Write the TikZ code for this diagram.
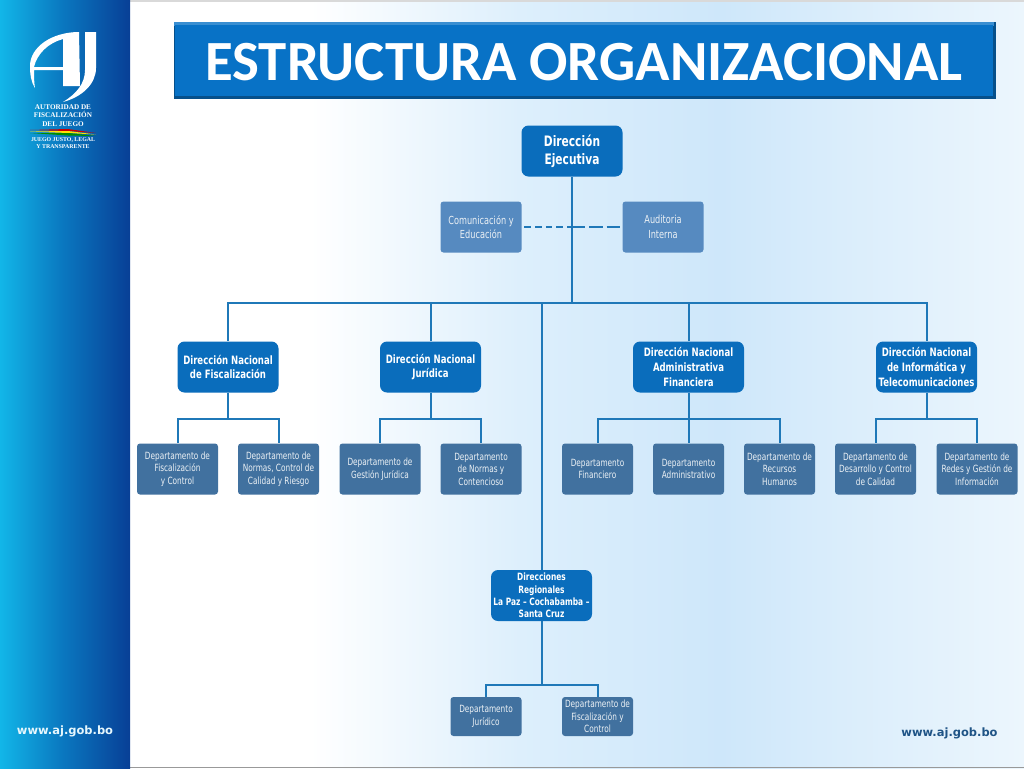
\documentclass[tikz,border=0pt]{standalone}
\usepackage{fontspec}
\setmainfont{Carlito}
\newfontfamily\boxfont[FakeStretch=0.74]{DejaVu Sans}
\newfontfamily\webfont{DejaVu Sans}
\newfontfamily\logofont{Liberation Serif}
\definecolor{dirblue}{HTML}{0A6DBC}
\definecolor{deptblue}{HTML}{41719F}
\definecolor{stafblue}{HTML}{568AC0}
\definecolor{lineblue}{HTML}{1F78B8}
\definecolor{titleblue}{HTML}{0872C6}
\definecolor{paleblue}{HTML}{CEE7FA}
\definecolor{midblue}{HTML}{DDEFFC}
\definecolor{lightblue}{HTML}{ECF6FD}
\definecolor{barcyan}{HTML}{12B6E8}
\definecolor{barmid}{HTML}{0A78C0}
\definecolor{bardark}{HTML}{083F96}
\definecolor{webblue}{HTML}{1F5486}
\tikzset{
  dirbox/.style={fill=dirblue, text=white, rounded corners=7*0.75pt, align=center, inner sep=0pt,
    minimum width=101*0.75pt, minimum height=51*0.75pt,
    font=\boxfont\bfseries\fontsize{8.65}{11}\selectfont},
  deptbox/.style={fill=deptblue, text=white!90!deptblue, rounded corners=3*0.75pt, align=center, inner sep=0pt,
    minimum width=81*0.75pt, minimum height=51*0.75pt,
    font=\boxfont\fontsize{7.45}{9.4}\selectfont},
  narrowbox/.style={deptbox, minimum width=71*0.75pt},
  stafbox/.style={deptbox, fill=stafblue, minimum width=81*0.75pt,
    font=\boxfont\fontsize{8.3}{11}\selectfont},
  conn/.style={draw=lineblue, line width=1.5pt},
  logotext/.style={text=white, align=center, inner sep=0pt}
}
\begin{document}
\begin{tikzpicture}[x=0.75pt, y=-0.75pt]
\useasboundingbox (0,0) rectangle (1024,768);
% background
\fill[white] (0,0) rectangle (1024,768);
\fill[left color=white, right color=midblue] (310,0) rectangle (520,768);
\fill[left color=midblue, right color=paleblue] (520,0) rectangle (720,768);
\fill[left color=paleblue, right color=lightblue] (720,0) rectangle (1024,768);
\fill[white!70!gray] (130,0) rectangle (1024,1.5);
\fill[gray!80] (130,766.5) rectangle (1024,768);
% side bar
\fill[left color=barcyan, right color=barmid] (0,0) rectangle (62,768);
\fill[left color=barmid, right color=bardark] (62,0) rectangle (130,768);
% logo
\fill[white, even odd rule] (79,32) .. controls (52,32) and (30,47) .. (30,66)
  .. controls (30,74) and (31,82) .. (35,88) .. controls (34,82) and (34,76) .. (34,70)
  -- (63,70) -- (63,86) -- (80,86) -- cycle
  (63,39) .. controls (48,43) and (37,54) .. (34,67) -- (63,67) -- cycle;
\fill[white] (85,32) -- (96,32) -- (96,68) .. controls (96,84) and (82,97) .. (63,102)
  .. controls (76,94) and (85,84) .. (85,70) -- cycle;
\node[logotext, font=\logofont\bfseries\fontsize{5.4}{6.2}\selectfont] (logoname) at (63,115.5) {AUTORIDAD DE\\FISCALIZACIÓN\\DEL JUEGO};
\fill[red!80!black] (30,130) -- (68,129) -- (96,133) -- (68,131) -- cycle;
\fill[yellow!85!orange] (30,131.5) -- (68,131) -- (96,134.5) -- (68,133) -- cycle;
\fill[green!55!black] (30,133) -- (68,133) -- (96,136) -- (68,135.5) -- cycle;
\node[logotext, font=\logofont\bfseries\fontsize{4.4}{5}\selectfont] (logomotto) at (63,143) {JUEGO JUSTO, LEGAL\\Y TRANSPARENTE};
\node[text=white!90!cyan, inner sep=0pt, font=\webfont\bfseries\fontsize{8.6}{10}\selectfont] (webleft) at (65,731) {www.aj.gob.bo};
\node[text=webblue, inner sep=0pt, font=\webfont\bfseries\fontsize{8.6}{10}\selectfont] (webright) at (949.5,733) {www.aj.gob.bo};
% title
\fill[titleblue!70!black] (174,22) rectangle (996,99);
\fill[titleblue!80!white] (174,22) rectangle (994,26);
\fill[titleblue] (175,25) rectangle (993,96);
\node[inner sep=0pt, text=white, font=\bfseries\fontsize{42.6}{44}\selectfont] (title) at (584,62.5) {ESTRUCTURA ORGANIZACIONAL};
% top of the chart
\node[dirbox, font=\boxfont\bfseries\fontsize{10.8}{13.5}\selectfont] (dirEjec) at (572,151) {Dirección\\Ejecutiva};
\node[stafbox] (comEdu) at (481,227) {Comunicación y\\Educación};
\node[stafbox] (audInt) at (663,227) {Auditoria\\Interna};
\node[dirbox] (dirFisc) at (228,367) {Dirección Nacional\\de Fiscalización};
\node[dirbox] (dirJur) at (430.5,367) {Dirección Nacional\\Jurídica};
\node[dirbox, minimum width=111*0.75pt] (dirAdm) at (688.5,367) {Dirección Nacional\\Administrativa\\Financiera};
\node[dirbox] (dirInf) at (926.5,367) {Dirección Nacional\\de Informática y\\Telecomunicaciones};
\node[dirbox, font=\boxfont\bfseries\fontsize{7.55}{9.3}\selectfont] (dirReg) at (541.5,595.5) {Direcciones\\Regionales\\La Paz – Cochabamba –\\Santa Cruz};
% departments
\node[deptbox] (depFisc) at (177.5,469) {Departamento de\\Fiscalización\\y Control};
\node[deptbox] (depNorm) at (278.5,469) {Departamento de\\Normas, Control de\\Calidad y Riesgo};
\node[deptbox] (depGest) at (380,469) {Departamento de\\Gestión Jurídica};
\node[deptbox] (depCont) at (481,469) {Departamento\\de Normas y\\Contencioso};
\node[narrowbox] (depFin) at (597.5,469) {Departamento\\Financiero};
\node[narrowbox] (depAdm) at (688.5,469) {Departamento\\Administrativo};
\node[narrowbox] (depRec) at (779.5,469) {Departamento de\\Recursos\\Humanos};
\node[deptbox] (depDes) at (875.5,469) {Departamento de\\Desarrollo y Control\\de Calidad};
\node[deptbox] (depRed) at (977,469) {Departamento de\\Redes y Gestión de\\Información};
\node[narrowbox, minimum height=39*0.75pt] (depRegJur) at (486,716.5) {Departamento\\Jurídico};
\node[narrowbox, minimum height=39*0.75pt] (depRegFis) at (597.5,716.5) {Departamento de\\Fiscalización y\\Control};
% connectors
\coordinate (bus) at (572,303);
\coordinate (staf) at (572,227);
\draw[conn] (dirEjec.south) -- (bus);
\foreach \n in {dirFisc,dirJur,dirAdm,dirInf,dirReg} \draw[conn] (bus) -| (\n.north);
\draw[draw=lineblue, line width=0.9pt, dash pattern=on 5pt off 3pt, shorten <=2pt] (comEdu.east) -- (staf);
\draw[draw=lineblue, line width=1.5pt, dash pattern=on 10pt off 3pt] (staf) -- (audInt.west);
\foreach \p/\c in {dirFisc/depFisc,dirFisc/depNorm,dirJur/depGest,dirJur/depCont,dirAdm/depFin,dirAdm/depAdm,dirAdm/depRec,dirInf/depDes,dirInf/depRed}
  \draw[conn] (\p.south) -- ++(0,26) -| (\c.north);
\foreach \c in {depRegJur,depRegFis} \draw[conn] (dirReg.south) -- ++(0,64) -| (\c.north);
\end{tikzpicture}
\end{document}
